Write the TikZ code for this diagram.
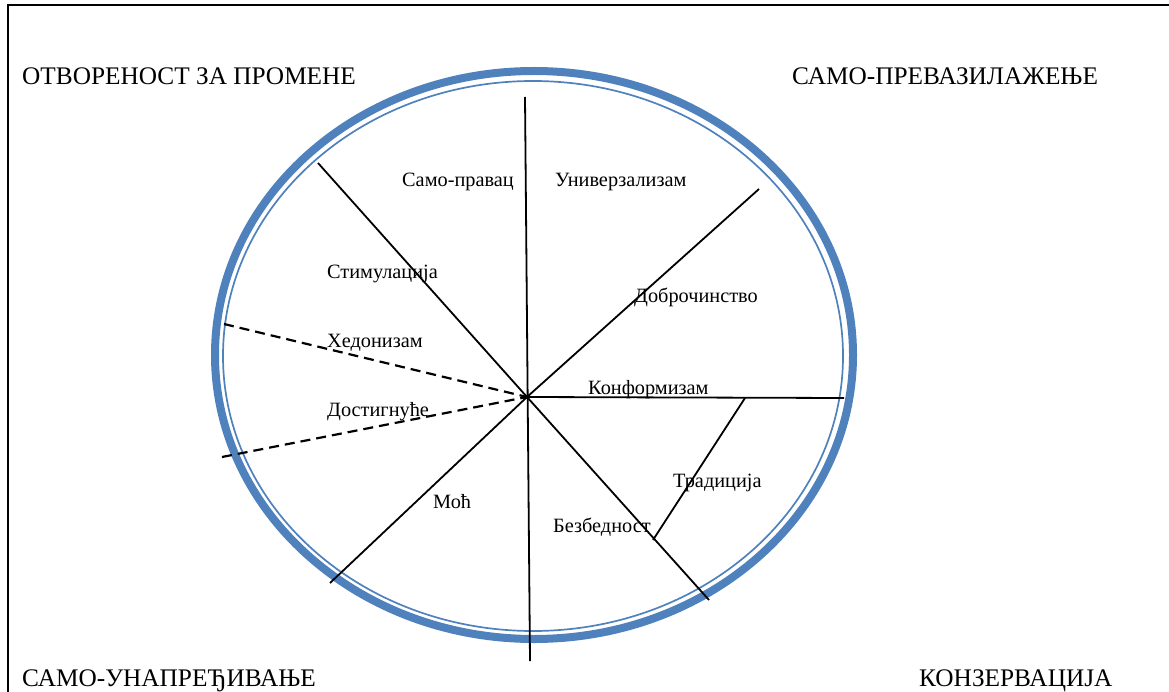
\documentclass[tikz,border=0pt]{standalone}
\usepackage{fontspec}
\setmainfont{Liberation Serif}
\definecolor{ringblue}{HTML}{4F81BD}
\begin{document}
\begin{tikzpicture}[x=1pt,y=-1pt,
  spoke/.style={line width=1.8pt, black},
  dashspoke/.style={line width=2.2pt, black, dash pattern=on 10pt off 6pt},
  lbl/.style={anchor=base west, inner sep=0pt, font=\fontsize{20.3}{23}\selectfont},
  corner/.style={anchor=base west, inner sep=0pt, font=\fontsize{25.3}{29}\selectfont},
  frame/.style={line width=2.5pt, black}]
\useasboundingbox (0,0) rectangle (1169,692);
% frame
\coordinate (fbl) at (8,693);
\coordinate (ftl) at (8,5);
\coordinate (ftr) at (1170,5);
\draw[frame] (fbl) -- (ftl) -- (ftr);
% ring
\coordinate (ec) at (534,355);
\draw[ringblue, line width=8pt] (ec) ellipse [x radius=319, y radius=284];
\draw[ringblue, line width=1.7pt] (533,356) ellipse [x radius=310, y radius=275];
% spokes
\coordinate (c) at (527,397);
\coordinate (pTop) at (525,97);
\coordinate (pBot) at (530,661);
\coordinate (pUL) at (318,163);
\coordinate (pUR) at (759,189);
\coordinate (pR) at (844,398);
\coordinate (pLL) at (330,583);
\coordinate (pLR) at (709,600);
\coordinate (pHed) at (224,324);
\coordinate (pDos) at (222,457);
\coordinate (tA) at (745,398);
\coordinate (tB) at (653,540);
\draw[spoke] (pTop) -- (pBot);
\draw[spoke] (pUL) -- (c);
\draw[spoke] (c) -- (pUR);
\draw[spoke] (c) -- (pR);
\draw[spoke] (c) -- (pLL);
\draw[spoke] (c) -- (pLR);
\draw[spoke] (tA) -- (tB);
\draw[dashspoke] (pHed) -- (c);
\draw[dashspoke] (pDos) -- (c);
\fill (c) circle (2.2pt);
% labels
\node[lbl] (samopr) at (402,187) {Само-правац};
\node[lbl] (univ) at (555,187) {Универзализам};
\node[lbl] (dobr) at (634,303) {Доброчинство};
\node[lbl] (stim) at (327,279) {Стимулација};
\node[lbl] (hed) at (327,348) {Хедонизам};
\node[lbl] (dost) at (327,416) {Достигнуће};
\node[lbl] (konf) at (588,394) {Конформизам};
\node[lbl] (trad) at (673,487) {Традиција};
\node[lbl] (moc) at (433,508) {Моћ};
\node[lbl] (bezb) at (553,532) {Безбедност};
% corner labels
\node[corner] (otv) at (22,85) {ОТВОРЕНОСТ ЗА ПРОМЕНЕ};
\node[corner] (prev) at (792,85) {САМО-ПРЕВАЗИЛАЖЕЊЕ};
\node[corner] (unap) at (22,686) {САМО-УНАПРЕЂИВАЊЕ};
\node[corner] (konz) at (919,686) {КОНЗЕРВАЦИЈА};
\end{tikzpicture}
\end{document}
